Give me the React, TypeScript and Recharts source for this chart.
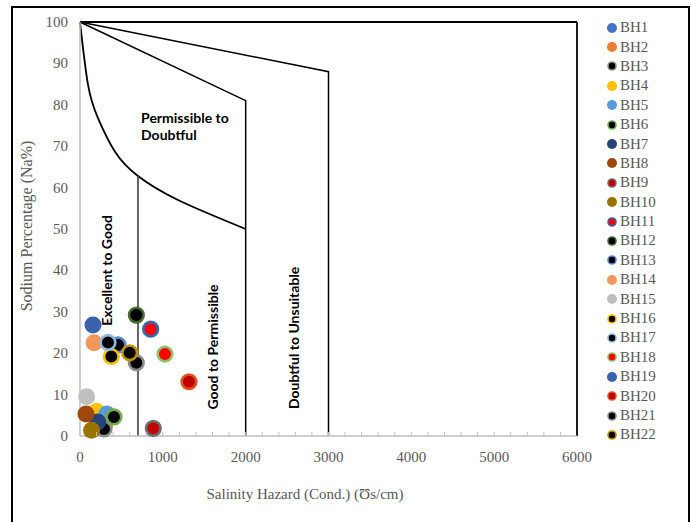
import React from "react";
import { ComposedChart, Line, Scatter, XAxis, YAxis, ReferenceDot } from "recharts";

// boundary lines of the Na% vs EC diagram
const curveLine = [
  { x: 0, y: 100 },
  { x: 97, y: 84.8 },
  { x: 217, y: 76.8 },
  { x: 425, y: 68.6 },
  { x: 700, y: 62.8 },
  { x: 1183, y: 57 },
  { x: 2000, y: 50 },
];
const line2000 = [
  { x: 0, y: 100 },
  { x: 2000, y: 81 },
  { x: 2000, y: 0 },
];
const line3000 = [
  { x: 0, y: 100 },
  { x: 3000, y: 88 },
  { x: 3000, y: 0 },
];
const line700 = [
  { x: 700, y: 62.8 },
  { x: 700, y: 0 },
];
const topLine = [
  { x: 0, y: 100 },
  { x: 6000, y: 100 },
];
const rightLine = [
  { x: 6000, y: 100 },
  { x: 6000, y: 0 },
];

const wells = ["BH1", "BH2", "BH3", "BH4", "BH5", "BH6", "BH7", "BH8", "BH9", "BH10", "BH11", "BH12", "BH13", "BH14", "BH15", "BH16", "BH17", "BH18", "BH19", "BH20", "BH21", "BH22"];
const ecValues = [340, 300, 290, 200, 325, 410, 213, 72, 885, 140, 853, 680, 459, 170, 80, 378, 338, 1026, 157, 1316, 680, 600];
const naValues = [5, 2.9, 1.7, 5.9, 5.3, 4.6, 3.4, 5.3, 1.85, 1.4, 25.8, 29.2, 22, 22.5, 9.5, 19.2, 22.6, 19.8, 26.8, 13.1, 17.7, 20.1];
const fills = ["#4472C4", "#ED7D31", "#000000", "#FFC000", "#5B9BD5", "#000000", "#264478", "#9E480E", "#C00000", "#997300", "#FF0000", "#000000", "#000000", "#F1975A", "#BFBFBF", "#000000", "#000000", "#FF0000", "#3A62AD", "#C00000", "#000000", "#000000"];
const borders = [null, null, "#8C8C8C", null, null, "#70AD47", null, null, "#6E6E6E", null, "#2E6BB0", "#43682B", "#5B86CF", null, null, "#FFC000", "#8DB9E3", "#8CC168", null, "#E0521E", "#8C8C8C", "#BF9000"];

const xTicks = [0, 200, 400, 600, 800, 1000, 1200, 1400, 1600, 1800, 2000, 2200, 2400, 2600, 2800, 3000, 3200, 3400, 3600, 3800, 4000, 4200, 4400, 4600, 4800, 5000, 5200, 5400, 5600, 5800, 6000];
const yTicks = [0, 10, 20, 30, 40, 50, 60, 70, 80, 90, 100];

const serif = "'Liberation Serif', 'Times New Roman', serif";
const bold = "Lato, 'Open Sans', sans-serif";
const grey = "#595959";

function XTick(props: any) {
  const { x, y, payload } = props;
  const major = payload.value % 1000 === 0;
  return (
    <g>
      {payload.value !== 0 && payload.value !== 6000 && <line x1={x} x2={x} y1={y} y2={y - 4} stroke="#BFBFBF" />}
      {major && (
        <text x={x} y={y + 26} textAnchor="middle" fontFamily={serif} fontSize={15} fill={grey}>
          {payload.value}
        </text>
      )}
    </g>
  );
}

function YTick(props: any) {
  const { x, y, payload } = props;
  return (
    <text x={x - 12} y={y + 5} textAnchor="end" fontFamily={serif} fontSize={15} fill={grey}>
      {payload.value}
    </text>
  );
}

function Marker(fill: string, border: string | null) {
  return (p: any) => (
    <circle
      cx={p.cx}
      cy={p.cy}
      r={border ? 7.3 : 8.5}
      fill={fill}
      stroke={border ?? "none"}
      strokeWidth={border ? 2.6 : 0}
    />
  );
}

function rotLabel(text: string) {
  return (p: any) => {
    const cx = p.viewBox.x;
    const cy = p.viewBox.y;
    return (
      <text x={cx} y={cy} transform={`rotate(-90 ${cx} ${cy})`} textAnchor="middle" dominantBaseline="central" fontFamily={bold} fontWeight={700} fontSize={14} fill="#000">
        {text}
      </text>
    );
  };
}

function permLabel(p: any) {
  const x = p.viewBox.x;
  const y = p.viewBox.y;
  return (
    <text x={x} y={y} fontFamily={bold} fontWeight={700} fontSize={14} fill="#000">
      <tspan x={x} dy={5}>Permissible to</tspan>
      <tspan x={x} dy={17}>Doubtful</tspan>
    </text>
  );
}

function Legend() {
  return (
    <div style={{ position: "absolute", left: 606, top: 18 }}>
      {wells.map((w, i) => (
        <div key={w} style={{ display: "flex", alignItems: "center", height: 19.4 }}>
          <svg width={12} height={12} style={{ marginRight: 2 }}>
            <circle cx={6} cy={6} r={borders[i] ? 4 : 5} fill={fills[i]} stroke={borders[i] ?? "none"} strokeWidth={borders[i] ? 1.6 : 0} />
          </svg>
          <span style={{ fontFamily: serif, fontSize: 15, color: grey, lineHeight: "19px" }}>{w}</span>
        </div>
      ))}
    </div>
  );
}

export default function App() {
  return (
    <div style={{ position: "fixed", left: 0, top: 0, width: 691, height: 522, overflow: "hidden", background: "#fff" }}>
      <div style={{ position: "absolute", left: 11, top: 6, width: 675, height: 540, border: "2px solid #000" }} />
      <ComposedChart width={691} height={522} margin={{ top: 22, right: 114, bottom: 56, left: 20 }} style={{ position: "absolute", left: 0, top: 0 }}>
        <XAxis type="number" dataKey="x" domain={[0, 6000]} ticks={xTicks} interval={0} tick={<XTick />} tickLine={false} tickSize={0} tickMargin={0} axisLine={{ stroke: "#BFBFBF", strokeWidth: 1.5 }} height={30} allowDuplicatedCategory={false} />
        <YAxis type="number" dataKey="y" domain={[0, 100]} ticks={yTicks} interval={0} tick={<YTick />} tickLine={false} tickSize={0} tickMargin={0} axisLine={{ stroke: "#BFBFBF", strokeWidth: 1.5 }} width={60} />
        <Line data={topLine} dataKey="y" type="linear" stroke="#000" strokeWidth={1.8} dot={false} isAnimationActive={false} />
        <Line data={rightLine} dataKey="y" type="linear" stroke="#000" strokeWidth={1.8} dot={false} isAnimationActive={false} />
        <Line data={line3000} dataKey="y" type="linear" stroke="#000" strokeWidth={1.5} dot={false} isAnimationActive={false} />
        <Line data={line2000} dataKey="y" type="linear" stroke="#000" strokeWidth={1.5} dot={false} isAnimationActive={false} />
        <Line data={curveLine} dataKey="y" type="natural" stroke="#000" strokeWidth={1.8} dot={false} isAnimationActive={false} />
        <Line data={line700} dataKey="y" type="linear" stroke="#404040" strokeWidth={1.6} dot={false} isAnimationActive={false} />
        <ReferenceDot x={737} y={76.8} r={0} stroke="none" label={permLabel} />
        <ReferenceDot x={326} y={40} r={0} stroke="none" label={rotLabel("Excellent to Good")} />
        <ReferenceDot x={1594} y={21.5} r={0} stroke="none" label={rotLabel("Good to Permissible")} />
        <ReferenceDot x={2572} y={23.7} r={0} stroke="none" label={rotLabel("Doubtful to Unsuitable")} />
        {wells.map((w, i) => (
          <Scatter
            key={w}
            name={w}
            data={[{ x: ecValues[i], y: naValues[i] }]}
            dataKey="y"
            shape={Marker(fills[i], borders[i])}
            isAnimationActive={false}
          />
        ))}
      </ComposedChart>
      <div style={{ position: "absolute", left: 27, top: 226, transform: "translate(-50%, -50%) rotate(-90deg)", whiteSpace: "nowrap", fontFamily: serif, fontSize: 16, color: grey }}>
        Sodium Percentage (Na%)
      </div>
      <div style={{ position: "absolute", left: 305, top: 494, transform: "translate(-50%, -50%)", whiteSpace: "nowrap", fontFamily: serif, fontSize: 15, color: grey }}>
        Salinity Hazard (Cond.) (Ʊs/cm)
      </div>
      <Legend />
    </div>
  );
}
